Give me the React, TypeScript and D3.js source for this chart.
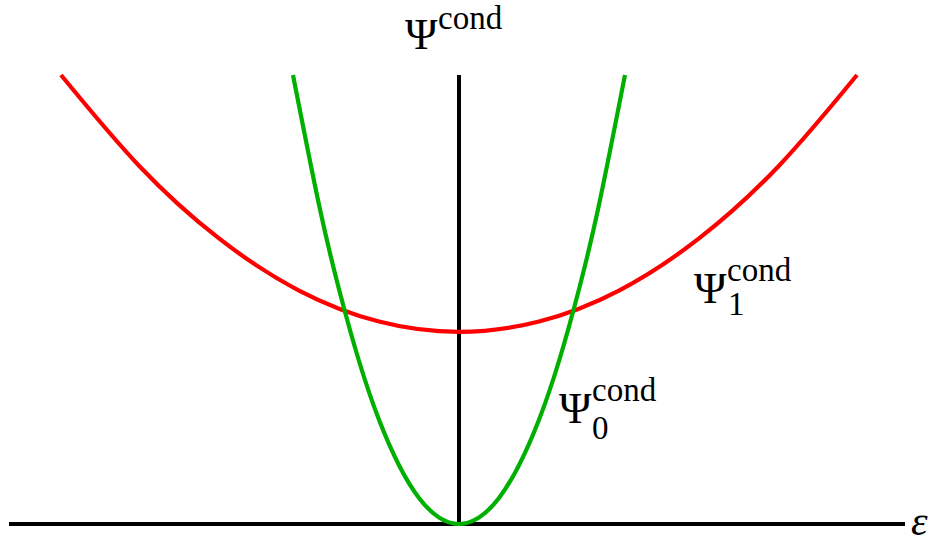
import React from "react";
import * as d3 from "d3";

// Conditional potential curves sampled along the strain axis ε
const epsGround = [-0.415, -0.35, -0.3, -0.25, -0.2, -0.15, -0.1, -0.05, 0, 0.05, 0.1, 0.15, 0.2, 0.25, 0.3, 0.35, 0.415];
const psiGround = [1.0, 0.711, 0.523, 0.363, 0.232, 0.131, 0.058, 0.0145, 0, 0.0145, 0.058, 0.131, 0.232, 0.363, 0.523, 0.711, 1.0];

const epsExcited = [-0.995, -0.8, -0.6, -0.4, -0.2, 0, 0.2, 0.4, 0.6, 0.8, 0.995];
const psiExcited = [1.0, 0.798, 0.636, 0.52, 0.451, 0.428, 0.451, 0.52, 0.636, 0.798, 1.0];

// Axis extents
const epsDomain = [-1.125, 1.115];
const psiDomain = [0, 1];

const W = 941;
const H = 546;

export default function App() {
  const x = d3.scaleLinear().domain(epsDomain).range([9, 905]);
  const y = d3.scaleLinear().domain(psiDomain).range([524, 75]);

  const line = d3
    .line<[number, number]>()
    .x((d) => x(d[0]))
    .y((d) => y(d[1]))
    .curve(d3.curveNatural);

  const ground = line(epsGround.map((e, i) => [e, psiGround[i]] as [number, number]));
  const excited = line(epsExcited.map((e, i) => [e, psiExcited[i]] as [number, number]));

  const serif = { fontFamily: "Liberation Serif, DejaVu Serif, serif" };

  return (
    <svg
      width={W}
      height={H}
      style={{ position: "absolute", left: 0, top: 0, background: "#fff" }}
    >
      {/* axes */}
      <line x1={x(epsDomain[0])} x2={x(epsDomain[1])} y1={y(0)} y2={y(0)} stroke="#000" strokeWidth={4} />
      <line x1={x(0)} x2={x(0)} y1={y(0)} y2={y(1)} stroke="#000" strokeWidth={4} />

      {/* curves */}
      <path d={excited ?? ""} fill="none" stroke="#ff0000" strokeWidth={4.2} />
      <path d={ground ?? ""} fill="none" stroke="#00b000" strokeWidth={4.2} />

      {/* labels */}
      <g style={serif} fill="#000">
        <text x={405} y={49} fontSize={44}>Ψ</text>
        <text x={438} y={29} fontSize={33}>cond</text>

        <text x={694} y={303} fontSize={44}>Ψ</text>
        <text x={727} y={281} fontSize={33}>cond</text>
        <text x={728} y={315} fontSize={33}>1</text>

        <text x={559} y={423} fontSize={44}>Ψ</text>
        <text x={592} y={401} fontSize={33}>cond</text>
        <text x={592} y={439} fontSize={33}>0</text>

        <text x={911} y={535} fontSize={42} fontStyle="italic">ε</text>
      </g>
    </svg>
  );
}
